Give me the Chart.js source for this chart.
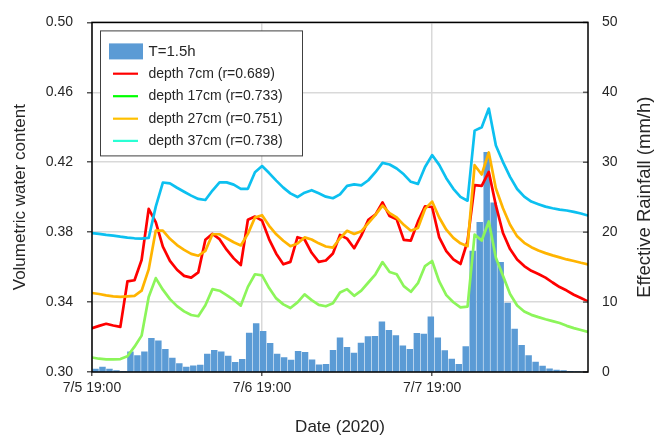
<!DOCTYPE html>
<html><head><meta charset="utf-8">
<script src="https://cdn.jsdelivr.net/npm/chart.js@4.4.1/dist/chart.umd.min.js"></script>
<style>html,body{margin:0;padding:0;background:#fff}</style>
</head><body>
<canvas id="c" width="654" height="436"></canvas>
<script>
// ---- data ----
const hours = [0,1,2,3,4,5,6,7,8,9,10,11,12,13,14,15,16,17,18,19,20,21,22,23,24,25,26,27,28,29,30,31,32,33,34,35,36,37,38,39,40,41,42,43,44,45,46,47,48,49,50,51,52,53,54,55,56,57,58,59,60,61,62,63,64,65,66,67,68,69,70];
const xTickValues = [0, 24, 48];
const xTickLabels = ['7/5 19:00', '7/6 19:00', '7/7 19:00'];
const rain = [0.4,0.7,0.4,0.2,0.1,2.9,2.35,2.9,4.8,4.45,
  3.25,2.0,1.2,0.7,0.9,1.0,2.55,3.1,2.9,2.27,
  1.37,1.8,5.57,6.94,5.8,4.1,2.55,2.07,1.7,2.97,
  2.83,1.75,1.04,1.08,3.1,4.9,3.54,2.7,4.15,5.05,
  5.1,7.17,5.95,5.2,3.73,3.26,5.52,5.43,7.88,4.9,
  3.07,1.84,1.09,3.64,17.3,21.4,31.4,24.2,15.7,9.87,
  6.13,3.82,2.36,1.42,0.85,0.47,0.28,0.19,0.1,0.05,0];
const depth7 = [0.3250,0.3264,0.3276,0.3266,0.3258,0.3518,0.3525,0.3641,0.3933,0.3858,
  0.3717,0.3636,0.3585,0.3550,0.3540,0.3570,0.3757,0.3790,0.3760,0.3700,
  0.3650,0.3612,0.3871,0.3889,0.3866,0.3759,0.3677,0.3616,0.3630,0.3771,
  0.3758,0.3682,0.3630,0.3638,0.3678,0.3784,0.3763,0.3708,0.3780,0.3870,
  0.3900,0.3970,0.3892,0.3873,0.3756,0.3752,0.3860,0.3948,0.3944,0.3770,
  0.3691,0.3644,0.3618,0.3748,0.4069,0.4065,0.4145,0.3953,0.3795,0.3703,
  0.3643,0.3606,0.3579,0.3561,0.3540,0.3512,0.3486,0.3466,0.3442,0.3423,
  0.3404];
const depth17 = [0.3083,0.3076,0.3072,0.3072,0.3074,0.3090,0.3145,0.3208,0.3429,0.3537,
  0.3471,0.3417,0.3377,0.3347,0.3326,0.3319,0.3382,0.3474,0.3465,0.3440,
  0.3412,0.3380,0.3487,0.3559,0.3553,0.3480,0.3421,0.3387,0.3366,0.3398,
  0.3444,0.3411,0.3384,0.3376,0.3393,0.3455,0.3474,0.3436,0.3465,0.3512,
  0.3559,0.3629,0.3572,0.3559,0.3491,0.3459,0.3508,0.3606,0.3635,0.3518,
  0.3440,0.3399,0.3370,0.3374,0.3786,0.3752,0.3861,0.3654,0.3550,0.3446,
  0.3380,0.3346,0.3327,0.3314,0.3302,0.3291,0.3280,0.3264,0.3251,0.3240,
  0.3229];
const depth27 = [0.3452,0.3446,0.3438,0.3433,0.3430,0.3433,0.3436,0.3465,0.3587,0.3809,
  0.3809,0.3762,0.3726,0.3699,0.3676,0.3665,0.3693,0.3788,0.3788,0.3765,
  0.3742,0.3724,0.3790,0.3884,0.3897,0.3836,0.3788,0.3751,0.3720,0.3735,
  0.3770,0.3758,0.3736,0.3718,0.3712,0.3765,0.3808,0.3790,0.3805,0.3852,
  0.3899,0.3952,0.3909,0.3884,0.3842,0.3808,0.3824,0.3933,0.3975,0.3884,
  0.3814,0.3767,0.3736,0.3720,0.4183,0.4130,0.4256,0.4050,0.3937,0.3842,
  0.3776,0.3739,0.3714,0.3695,0.3680,0.3667,0.3656,0.3644,0.3635,0.3625,
  0.3616];
const depth37 = [0.3795,0.3790,0.3784,0.3780,0.3774,0.3769,0.3765,0.3763,0.3767,0.3946,
  0.4084,0.4079,0.4054,0.4031,0.4009,0.3990,0.3984,0.4038,0.4085,0.4085,
  0.4072,0.4048,0.4048,0.4143,0.4178,0.4138,0.4095,0.4055,0.4022,0.4001,
  0.4026,0.4040,0.4022,0.4003,0.3994,0.4016,0.4065,0.4073,0.4068,0.4097,
  0.4143,0.4196,0.4187,0.4164,0.4131,0.4088,0.4076,0.4173,0.4241,0.4185,
  0.4109,0.4048,0.4002,0.3980,0.4381,0.4400,0.4507,0.4296,0.4201,0.4116,
  0.4047,0.4003,0.3975,0.3960,0.3946,0.3937,0.3929,0.3924,0.3916,0.3907,
  0.3895];
const seriesLabels = ['T=1.5h', 'depth 7cm (r=0.689)', 'depth 17cm (r=0.733)', 'depth 27cm (r=0.751)', 'depth 37cm (r=0.738)'];
const leftTitle = 'Volumetric water content';
const rightTitle = 'Effective Rainfall (mm/h)';
const bottomTitle = 'Date (2020)';

// ---- styles ----
const FONT = "'Liberation Sans', Arial, Helvetica, sans-serif";
const TXT = '#262626';
const GRID = '#d9d9d9';
const barColor = '#5b9bd5';
const lineColors = ['#ff0000', '#8cf55a', '#ffb400', '#0cc0f0'];
const legendColors = [barColor, '#ff0000', '#00ff00', '#ffc000', '#2affd4'];

const pts = arr => arr.map((v, i) => ({x: hours[i], y: v}));

const decor = {
  id: 'decor',
  afterDraw(chart) {
    const {ctx, chartArea: a} = chart;
    ctx.save();
    const y2 = chart.scales.y2;
    ctx.strokeStyle = '#595959'; ctx.lineWidth = 1.5;
    y2.ticks.forEach(t => {
      const py = y2.getPixelForValue(t.value);
      ctx.beginPath(); ctx.moveTo(a.right - 5, py); ctx.lineTo(a.right, py); ctx.stroke();
    });
    ctx.strokeStyle = '#000'; ctx.lineWidth = 1.5;
    ctx.strokeRect(a.left, a.top, a.right - a.left, a.bottom - a.top);
    ctx.save();
    ctx.translate(645, (a.top + a.bottom) / 2);
    ctx.rotate(-Math.PI / 2);
    ctx.font = '18.5px ' + FONT; ctx.fillStyle = TXT;
    ctx.textAlign = 'center'; ctx.textBaseline = 'middle';
    ctx.fillText(rightTitle, 0, 0);
    ctx.restore();
    const lx = a.left + 8.5, ly = a.top + 8.5, lw = 202, lh = 125;
    ctx.fillStyle = '#fff'; ctx.fillRect(lx, ly, lw, lh);
    ctx.strokeStyle = '#404040'; ctx.lineWidth = 1;
    ctx.strokeRect(lx, ly, lw, lh);
    ctx.textAlign = 'left'; ctx.textBaseline = 'middle';
    const rowY = [ly + 20.5, ly + 42.8, ly + 65.3, ly + 87.8, ly + 110];
    ctx.fillStyle = legendColors[0];
    ctx.fillRect(lx + 8.5, rowY[0] - 8, 34, 16);
    ctx.fillStyle = TXT; ctx.font = '15px ' + FONT;
    ctx.fillText(seriesLabels[0], lx + 48, rowY[0]);
    ctx.font = '14px ' + FONT;
    for (let i = 1; i < seriesLabels.length; i++) {
      ctx.strokeStyle = legendColors[i]; ctx.lineWidth = 2.2;
      ctx.beginPath(); ctx.moveTo(lx + 12.5, rowY[i]); ctx.lineTo(lx + 37.5, rowY[i]); ctx.stroke();
      ctx.fillStyle = TXT;
      ctx.fillText(seriesLabels[i], lx + 48, rowY[i]);
    }
    ctx.restore();
  }
};

const lineDs = (label, arr, color, order) => ({
  type: 'line', label, data: pts(arr), xAxisID: 'x', yAxisID: 'y',
  borderColor: color, backgroundColor: color, borderWidth: 2.7,
  pointRadius: 0, tension: 0, borderJoinStyle: 'round', borderCapStyle: 'round',
  order, clip: 0
});

new Chart(document.getElementById('c'), {
  type: 'line',
  data: {
    datasets: [
      {type: 'bar', label: seriesLabels[0], data: rain, xAxisID: 'x2', yAxisID: 'y2',
       backgroundColor: barColor, borderWidth: 0, grouped: false, barThickness: 5.8, order: 10},
      lineDs(seriesLabels[1], depth7, lineColors[0], 4),
      lineDs(seriesLabels[2], depth17, lineColors[1], 3),
      lineDs(seriesLabels[3], depth27, lineColors[2], 2),
      lineDs(seriesLabels[4], depth37, lineColors[3], 1)
    ]
  },
  options: {
    responsive: false, animation: false, devicePixelRatio: 1,
    layout: {padding: {top: 19, left: 0, right: 0, bottom: 0}},
    plugins: {legend: {display: false}, tooltip: {enabled: false}},
    scales: {
      x: {
        type: 'linear', position: 'bottom', min: 0, max: 70, offset: false,
        afterBuildTicks: s => { s.ticks = xTickValues.map(v => ({value: v})); },
        afterFit: s => { s.height = 64; },
        ticks: {color: TXT, font: {family: FONT, size: 14}, padding: 4, maxRotation: 0, autoSkip: false,
          callback: v => xTickLabels[xTickValues.indexOf(v)]},
        grid: {color: GRID, lineWidth: 1.5, drawTicks: true, tickLength: 4, tickColor: '#595959', tickWidth: 1.5},
        border: {display: false},
        title: {display: true, text: bottomTitle, color: TXT, font: {family: FONT, size: 17, lineHeight: 1}, padding: {top: 0, bottom: 0}}
      },
      x2: {
        type: 'category', labels: hours, offset: true, display: false,
        grid: {display: false}
      },
      y: {
        type: 'linear', position: 'left', min: 0.30, max: 0.50,
        afterFit: s => { s.width = 92; },
        ticks: {stepSize: 0.04, color: TXT, font: {family: FONT, size: 14}, padding: 14,
          callback: v => Number(v).toFixed(2)},
        grid: {color: GRID, lineWidth: 1.5, drawTicks: true, tickLength: 5, tickColor: '#595959', tickWidth: 1.5},
        border: {display: false},
        title: {display: true, text: leftTitle, color: TXT, font: {family: FONT, size: 17}, padding: {top: 10, bottom: 0}}
      },
      y2: {
        type: 'linear', position: 'right', min: 0, max: 50,
        afterFit: s => { s.width = 66; },
        ticks: {stepSize: 10, color: TXT, font: {family: FONT, size: 14}, padding: 14},
        grid: {display: false, drawTicks: false},
        border: {display: false}
      }
    }
  },
  plugins: [decor]
});
</script>
</body></html>
